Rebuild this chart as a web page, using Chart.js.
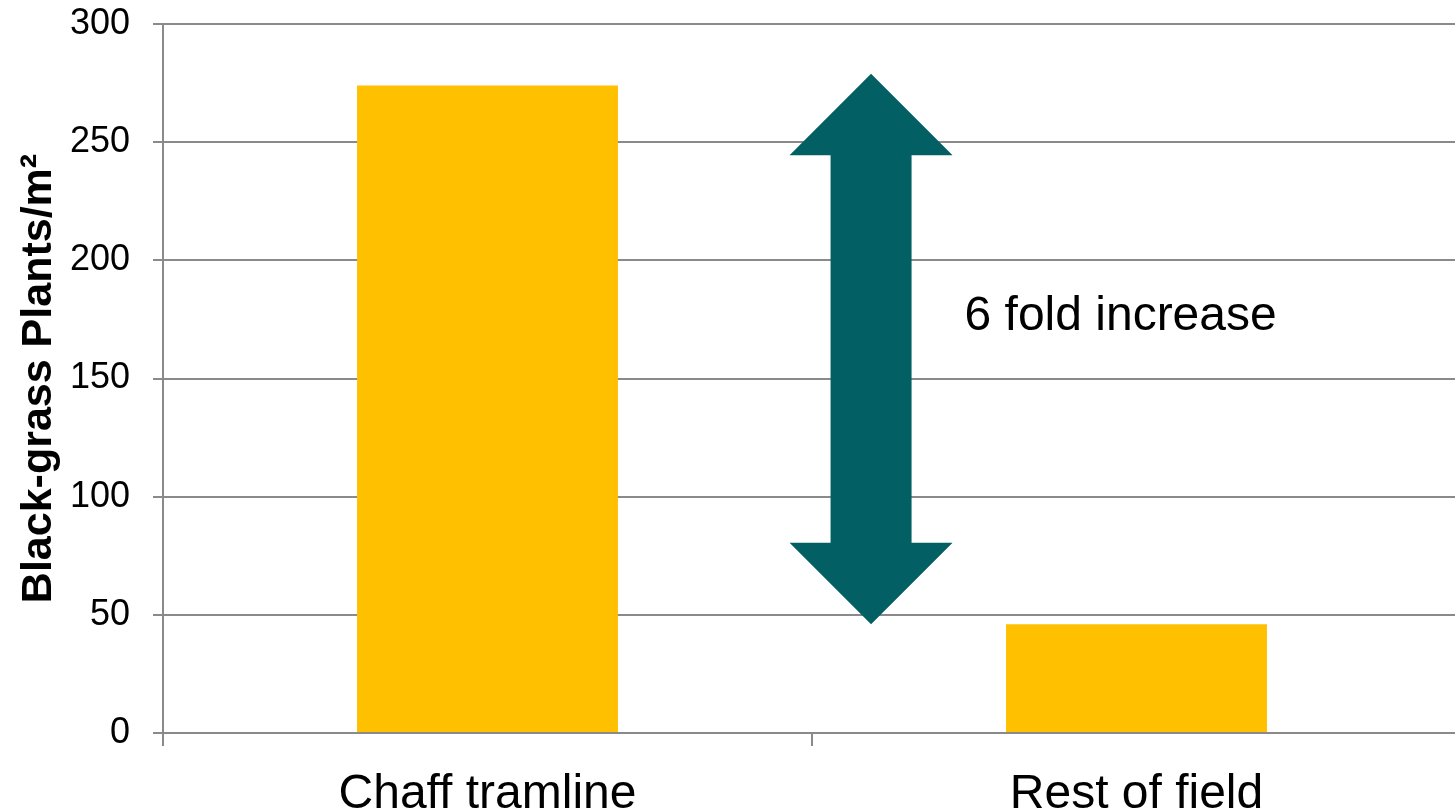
<!DOCTYPE html>
<html>
<head>
<meta charset="utf-8">
<script src="https://cdn.jsdelivr.net/npm/chart.js@4"></script>
<style>
    html, body { margin: 0; padding: 0; background: #fff; overflow: hidden; }
    #wrap { width: 1461px; height: 811px; position: relative; }
</style>
</head>
<body>
<div id="wrap"><canvas id="myChart"></canvas></div>
<script>
const categories = ['Chaff tramline', 'Rest of field'];
const plantCounts = [274, 46];
const yTicks = [0, 50, 100, 150, 200, 250, 300];

// double arrow between the two bars, in data units
const arrowX = 0.591;
const arrowTop = 279;
const arrowTopHeadBase = 244.5;
const arrowBottomHeadBase = 80.5;
const arrowBottom = 46;
const noteText = '6 fold increase';
const noteX = 0.735;
const noteY = 176;

const gridGray = '#8a8a8a';
const fontFamily = '"Liberation Sans", Arial, sans-serif';

const arrowPlugin = {
    id: 'foldArrow',
    afterDatasetsDraw(chart) {
        let ctx = chart.ctx;
        let xs = chart.scales.x;
        let ys = chart.scales.y;
        let cx = xs.getPixelForValue(arrowX);
        let headHalf = 81.5;
        let shaftHalf = 40.5;
        let yTip = ys.getPixelForValue(arrowTop);
        let yHead1 = ys.getPixelForValue(arrowTopHeadBase);
        let yHead2 = ys.getPixelForValue(arrowBottomHeadBase);
        let yTip2 = ys.getPixelForValue(arrowBottom);

        ctx.save();
        ctx.fillStyle = '#025f63';
        ctx.beginPath();
        ctx.moveTo(cx, yTip);
        ctx.lineTo(cx + headHalf, yHead1);
        ctx.lineTo(cx + shaftHalf, yHead1);
        ctx.lineTo(cx + shaftHalf, yHead2);
        ctx.lineTo(cx + headHalf, yHead2);
        ctx.lineTo(cx, yTip2);
        ctx.lineTo(cx - headHalf, yHead2);
        ctx.lineTo(cx - shaftHalf, yHead2);
        ctx.lineTo(cx - shaftHalf, yHead1);
        ctx.lineTo(cx - headHalf, yHead1);
        ctx.closePath();
        ctx.fill();

        ctx.fillStyle = '#000';
        ctx.font = '48px ' + fontFamily;
        ctx.textAlign = 'left';
        ctx.textBaseline = 'middle';
        ctx.fillText(noteText, xs.getPixelForValue(noteX), ys.getPixelForValue(noteY));
        ctx.restore();
    }
};

let ctx = document.getElementById('myChart').getContext('2d');
let myChart = new Chart(ctx, {
    type: 'bar',
    data: {
        labels: categories,
        datasets: [{
            data: plantCounts,
            backgroundColor: '#ffc000',
            borderWidth: 0,
            barPercentage: 0.402,
            categoryPercentage: 1
        }]
    },
    options: {
        responsive: true,
        maintainAspectRatio: false,
        animation: false,
        layout: { padding: { top: 24, right: 0, left: 0, bottom: 0 } },
        plugins: {
            legend: { display: false },
            tooltip: { enabled: false }
        },
        scales: {
            x: {
                offset: true,
                grid: {
                    offset: true,
                    drawOnChartArea: false,
                    tickLength: 13,
                    color: gridGray,
                    lineWidth: 2
                },
                border: { display: false },
                ticks: {
                    color: '#000',
                    padding: 20,
                    maxRotation: 0,
                    font: { family: fontFamily, size: 48 }
                },
                afterFit: s => { s.height = 78; s.paddingLeft = 0; s.paddingRight = 0; }
            },
            y: {
                min: 0,
                max: 300,
                afterBuildTicks: s => { s.ticks = yTicks.map(v => ({ value: v })); },
                grid: {
                    tickLength: 10,
                    color: gridGray,
                    lineWidth: 2
                },
                border: { display: true, color: gridGray, width: 2 },
                ticks: {
                    color: '#000',
                    padding: 23,
                    font: { family: fontFamily, size: 36 }
                },
                title: {
                    display: true,
                    text: 'Black-grass Plants/m²',
                    color: '#000',
                    padding: { top: 13, bottom: 0 },
                    font: { family: fontFamily, size: 43, weight: 'bold' }
                },
                // tick labels may overflow the plot edges, as the 300 label does at the top
                afterFit: s => { s.width = 163; s.paddingTop = 0; s.paddingBottom = 0; }
            }
        }
    },
    plugins: [arrowPlugin]
});
</script>
</body>
</html>
